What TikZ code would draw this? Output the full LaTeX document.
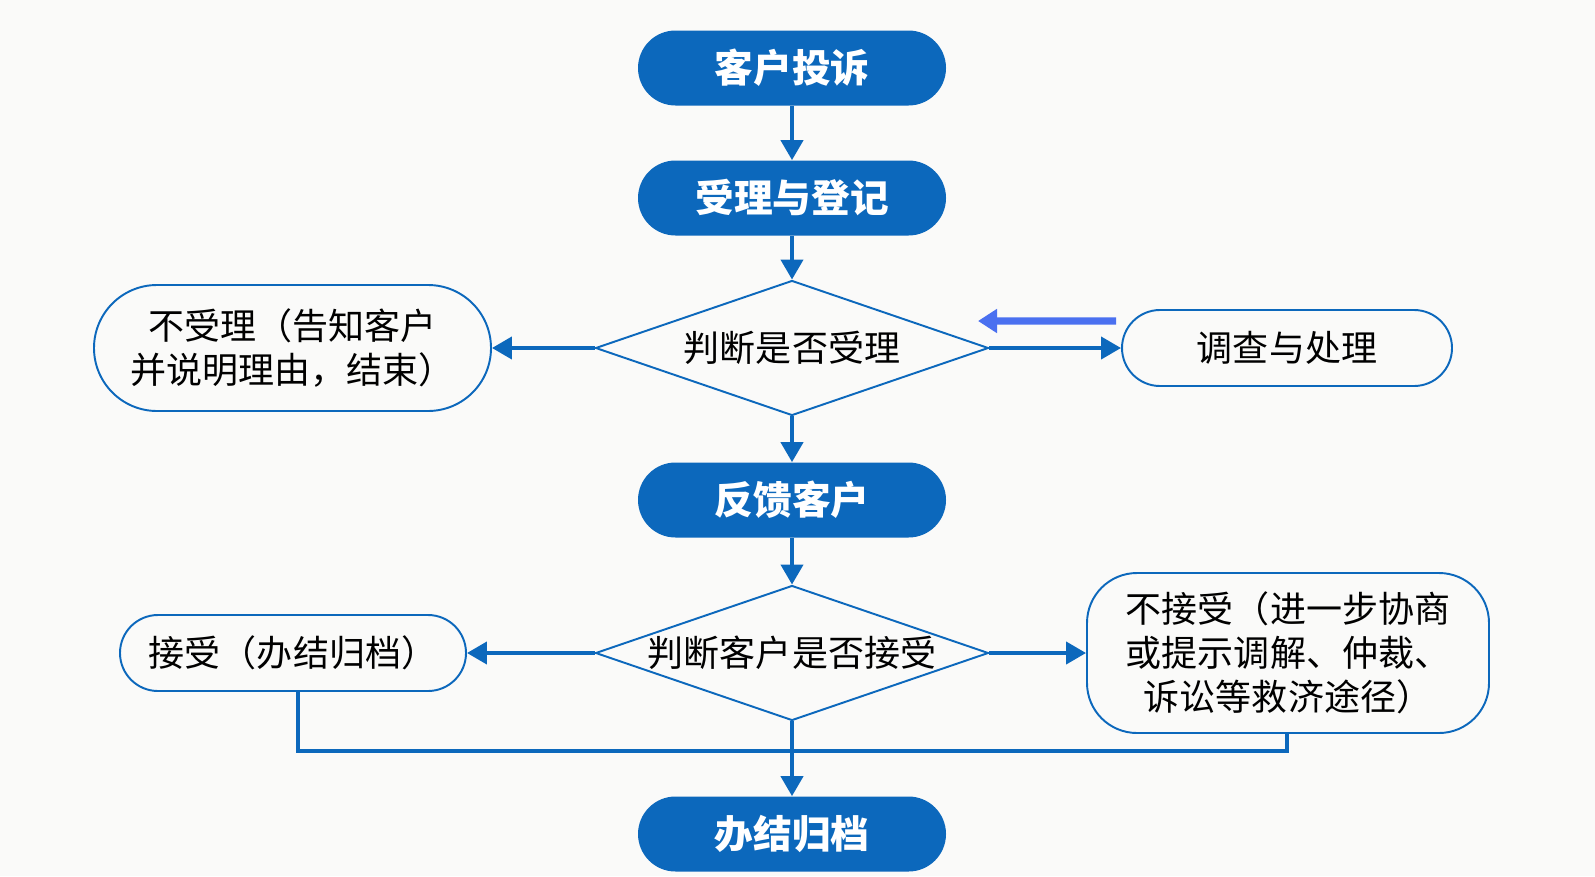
\documentclass[tikz,border=0pt]{standalone}
\usepackage{fontspec}
\setmainfont{Noto Sans CJK SC}
\usepackage{tikz}
\usetikzlibrary{arrows.meta}
\usetikzlibrary{shapes.geometric}
\definecolor{flowblue}{RGB}{12,104,188}
\definecolor{backblue}{RGB}{74,112,240}
\definecolor{paper}{RGB}{250,250,249}

\begin{document}
\begin{tikzpicture}[
	stepfill/.style={rectangle, rounded corners=0.75cm, fill=flowblue, text=white, minimum width=6.16cm, minimum height=1.5cm, font=\fontsize{22}{26}\selectfont\bfseries},
	stepline/.style={rectangle, draw=flowblue, line width=1.1pt, align=center, font=\fontsize{20.5}{25}\selectfont},
	decide/.style={diamond, draw=flowblue, line width=1.1pt, aspect=2.9, inner sep=-1pt, minimum width=7.86cm, minimum height=2.7cm, font=\fontsize{20.5}{25}\selectfont},
	flow/.style={draw=flowblue, line width=2.3pt, -{Triangle[length=0.4cm,width=0.44cm]}},
	backflow/.style={draw=backblue, line width=4pt, -{Triangle[length=0.38cm,width=0.46cm]}},
	joinline/.style={draw=flowblue, line width=2.3pt}
	]
				\fill[paper] (0,0) rectangle (31.9,-17.52);
				\useasboundingbox (0,0) rectangle (31.9,-17.52);
				
				\node[stepfill] (n1) at (15.84,-1.36) {客户投诉};
				\node[stepfill] (n2) at (15.84,-3.96) {受理与登记};
				\node[decide] (d1) at (15.84,-6.96) {判断是否受理};
				\node[stepline, rounded corners=1.26cm, minimum width=7.94cm, minimum height=2.52cm] (refuse) at (5.85,-6.96) {不受理（告知客户\\并说明理由，结束）};
				\node[stepline, rounded corners=0.76cm, minimum width=6.6cm, minimum height=1.52cm] (handle) at (25.74,-6.96) {调查与处理};
				\coordinate (back) at (19.56,-6.42);
				\node[stepfill] (n3) at (15.84,-10.0) {反馈客户};
				\node[decide] (d2) at (15.84,-13.06) {判断客户是否接受};
				\node[stepline, rounded corners=0.76cm, minimum width=6.92cm, minimum height=1.52cm] (accept) at (5.86,-13.06) {接受（办结归档）};
				\node[stepline, rounded corners=1.0cm, minimum width=8.04cm, minimum height=3.2cm] (reject) at (25.76,-13.06) {不接受（进一步协商\\或提示调解、仲裁、\\诉讼等救济途径）};
				\coordinate (join) at (15.84,-15.02);
				\node[stepfill] (n4) at (15.84,-16.68) {办结归档};
				
				\draw[flow] (n1) -- (n2);
				\draw[flow] (n2) -- (d1);
				\draw[flow] (d1) -- (refuse);
				\draw[flow] (d1) -- (handle);
				\draw[backflow] ([xshift=-0.1cm,yshift=0.54cm]handle.west) -- (back);
				\draw[flow] (d1) -- (n3);
				\draw[flow] (n3) -- (d2);
				\draw[flow] (d2) -- (accept);
				\draw[flow] (d2) -- (reject);
				\draw[joinline] ([xshift=0.1cm]accept.south) |- (join) -| ([xshift=-0.02cm]reject.south);
				\draw[flow] (d2) -- (n4);
			\end{tikzpicture}
\end{document}
